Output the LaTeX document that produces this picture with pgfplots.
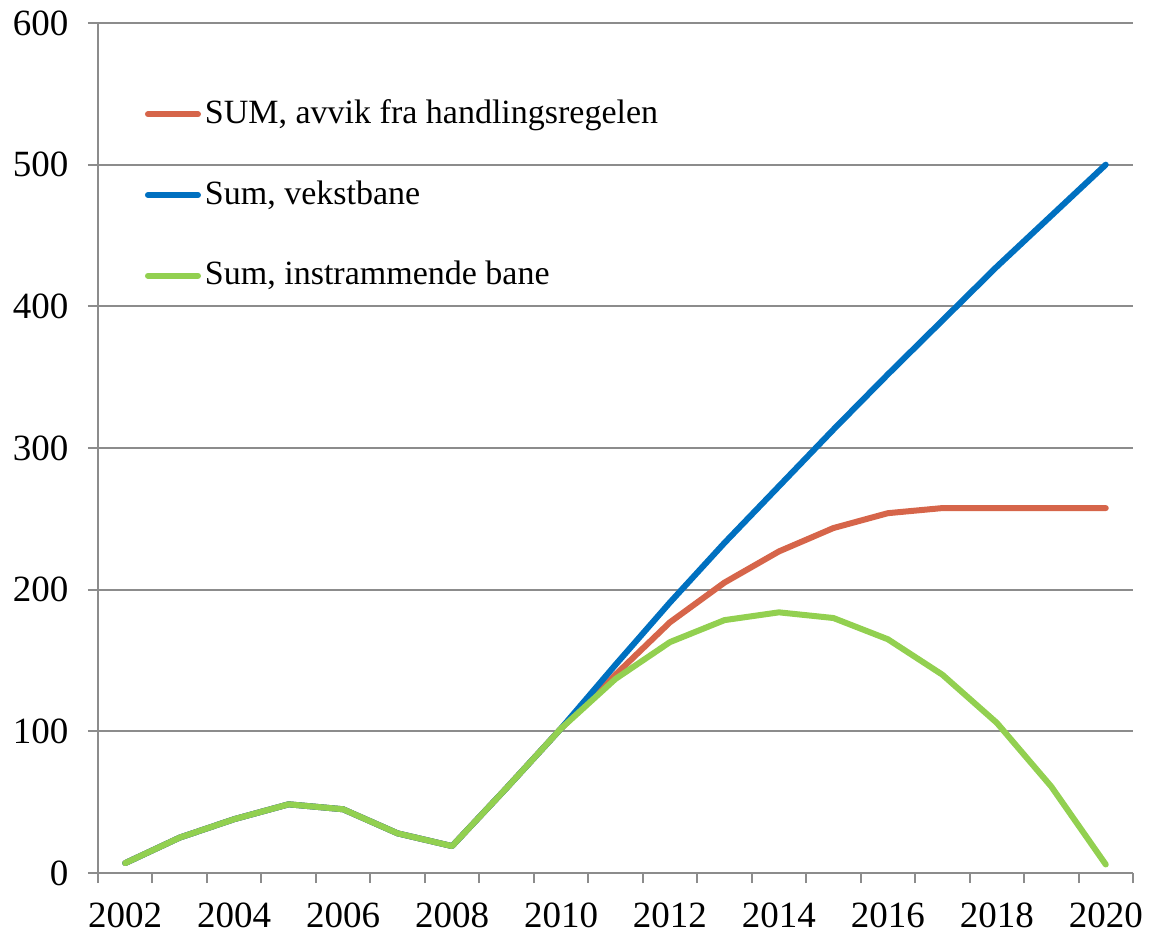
\documentclass[border=0pt]{standalone}
\usepackage{pgfplots}
\pgfplotsset{compat=1.18}
\usepackage{fontspec}
\setmainfont{Liberation Serif}
\definecolor{cred}{RGB}{214,101,74}
\definecolor{cblue}{RGB}{0,112,192}
\definecolor{cgreen}{RGB}{146,208,80}
\definecolor{cgrid}{RGB}{140,140,140}
\begin{document}
\fontsize{17pt}{20pt}\selectfont
\begin{tikzpicture}
\begin{axis}[
  at={(0,0)}, anchor=south west,
  scale only axis, width=517.5pt, height=425pt,
  xmin=-0.5, xmax=18.5, ymin=0, ymax=600,
  axis lines*=left,
  axis line style={cgrid, line width=1pt},
  xtick={0,2,...,18},
  xticklabels={2002,2004,2006,2008,2010,2012,2014,2016,2018,2020},
  minor xtick={-0.5,0.5,...,18.5},
  ytick={0,100,...,600},
  ymajorgrids,
  major grid style={cgrid, line width=1pt},
  tick align=outside,
  x tick style={draw=none},
  minor x tick style={draw=cgrid, line width=1pt},
  minor tick length=5pt,
  y tick style={cgrid, line width=1pt},
  major tick length=5pt,
  /pgf/number format/assume math mode=true,
  /pgf/number format/1000 sep={},
  ticklabel style={font=\fontsize{18.5pt}{21pt}\selectfont},
  xticklabel style={inner sep=0.5pt, yshift=-9pt},
  yticklabel style={xshift=-4pt},
  legend style={draw=none, fill=none, at={(0.045,0.915)}, anchor=north west,
    font=\fontsize{17pt}{20pt}\selectfont, row sep=22pt, inner sep=0pt,
    cells={anchor=west}},
  legend image code/.code={\draw[#1] (0pt,0pt) -- (25pt,0pt);},
  every axis plot/.append style={line width=3pt, line cap=round, line join=round},
  clip=false,
]
\addplot[cred] coordinates {(0,7) (1,25) (2,38) (3,48.5) (4,45) (5,28) (6,19) (7,60) (8,102)
 (9,140) (10,177) (11,205) (12,227) (13,243.5) (14,254) (15,257.6) (16,257.6) (17,257.6) (18,257.6)};
\addlegendentry{SUM, avvik fra handlingsregelen}
\addplot[cblue] coordinates {(0,7) (1,25) (2,38) (3,48.5) (4,45) (5,28) (6,19) (7,60) (8,102)
 (9,147) (10,191) (11,233) (12,273) (13,313) (14,352) (15,390) (16,428) (17,464) (18,500)};
\addlegendentry{Sum, vekstbane}
\addplot[cgreen] coordinates {(0,7) (1,25) (2,38) (3,48.5) (4,45) (5,28) (6,19) (7,60) (8,102)
 (9,137) (10,163) (11,178.5) (12,184) (13,180) (14,165) (15,140) (16,106) (17,61) (18,6)};
\addlegendentry{Sum, instrammende bane}
\end{axis}
\pgfresetboundingbox
\path[use as bounding box] (-49pt,-33pt) rectangle (531pt,436.5pt);
\end{tikzpicture}
\end{document}
